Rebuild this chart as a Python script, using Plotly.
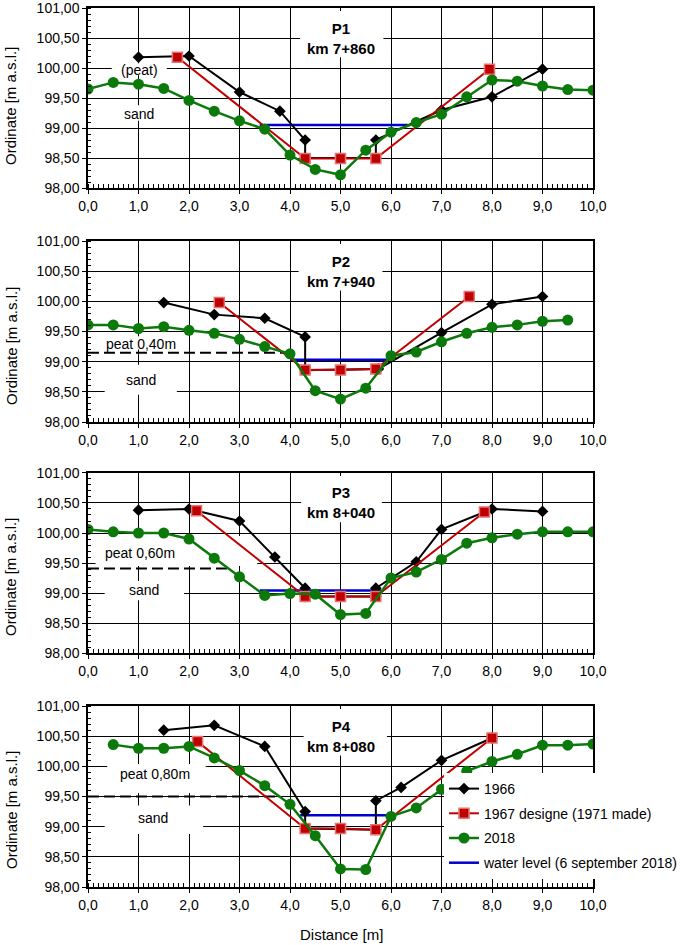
import plotly.graph_objects as go

# ---------------- data ----------------
panel_titles = ["P1<br>km 7+860", "P2<br>km 7+940", "P3<br>km 8+040", "P4<br>km 8+080"]
series_names = ["1966", "1967 designe (1971 made)", "2018", "water level (6 september 2018)"]
x_title = "Distance [m]"
y_title = "Ordinate [m a.s.l.]"

# P1
p1_1966_x = [1.0, 2.0, 3.0, 3.8, 4.3, 4.3, 5.7, 5.7, 7.0, 8.0, 9.0]
p1_1966_y = [100.18, 100.20, 99.60, 99.28, 98.80, 98.50, 98.50, 98.80, 99.30, 99.52, 99.98]
p1_1967_x = [1.77, 4.3, 5.0, 5.7, 7.95]
p1_1967_y = [100.18, 98.49, 98.49, 98.49, 99.98]
p1_2018_x = [0.0, 0.5, 1.0, 1.5, 2.0, 2.5, 3.0, 3.5, 4.0, 4.5, 5.0, 5.5, 6.0, 6.5, 7.0, 7.5, 8.0, 8.5, 9.0, 9.5, 10.0]
p1_2018_y = [99.65, 99.76, 99.73, 99.66, 99.46, 99.28, 99.12, 98.98, 98.55, 98.31, 98.22, 98.63, 98.93, 99.09, 99.23, 99.52, 99.80, 99.78, 99.70, 99.64, 99.63]
p1_water_x = [3.4, 6.33]
p1_water_y = [99.05, 99.05]

# P2
p2_1966_x = [1.5, 2.5, 3.5, 4.3, 4.3, 5.75, 7.0, 8.0, 9.0]
p2_1966_y = [99.98, 99.78, 99.72, 99.41, 98.86, 98.88, 99.48, 99.95, 100.08]
p2_1967_x = [2.6, 4.3, 5.0, 5.7, 7.55]
p2_1967_y = [99.98, 98.86, 98.86, 98.88, 100.08]
p2_2018_x = [0.0, 0.5, 1.0, 1.5, 2.0, 2.5, 3.0, 3.5, 4.0, 4.5, 5.0, 5.5, 6.0, 6.5, 7.0, 7.5, 8.0, 8.5, 9.0, 9.5]
p2_2018_y = [99.61, 99.61, 99.55, 99.58, 99.52, 99.47, 99.37, 99.25, 99.13, 98.52, 98.38, 98.56, 99.10, 99.16, 99.33, 99.47, 99.57, 99.61, 99.67, 99.69]
p2_water_x = [4.0, 5.97]
p2_water_y = [99.03, 99.03]
p2_peat_x = [0.0, 4.0]
p2_peat_y = [99.15, 99.15]

# P3
p3_1966_x = [1.0, 2.0, 3.0, 3.7, 4.3, 4.3, 5.7, 5.7, 6.5, 7.0, 8.0, 9.0]
p3_1966_y = [100.38, 100.40, 100.20, 99.60, 99.08, 98.94, 98.94, 99.08, 99.52, 100.06, 100.40, 100.36]
p3_1967_x = [2.15, 4.3, 5.0, 5.7, 7.85]
p3_1967_y = [100.37, 98.94, 98.94, 98.94, 100.35]
p3_2018_x = [0.0, 0.5, 1.0, 1.5, 2.0, 2.5, 3.0, 3.5, 4.0, 4.5, 5.0, 5.5, 6.0, 6.5, 7.0, 7.5, 8.0, 8.5, 9.0, 9.5, 10.0]
p3_2018_y = [100.06, 100.02, 100.00, 100.00, 99.90, 99.58, 99.27, 98.96, 98.99, 98.98, 98.64, 98.66, 99.25, 99.35, 99.56, 99.83, 99.92, 99.98, 100.02, 100.02, 100.02]
p3_water_x = [3.4, 5.8]
p3_water_y = [99.04, 99.04]
p3_peat_x = [0.0, 2.77]
p3_peat_y = [99.41, 99.41]

# P4
p4_1966_x = [1.5, 2.5, 3.5, 4.3, 4.3, 5.7, 5.7, 6.2, 7.0, 8.0]
p4_1966_y = [100.60, 100.68, 100.33, 99.25, 98.97, 98.95, 99.43, 99.65, 100.10, 100.47]
p4_1967_x = [2.17, 4.3, 5.0, 5.7, 8.0]
p4_1967_y = [100.41, 98.97, 98.97, 98.95, 100.47]
p4_2018_x = [0.5, 1.0, 1.5, 2.0, 2.5, 3.0, 3.5, 4.0, 4.5, 5.0, 5.5, 6.0, 6.5, 7.0, 7.5, 8.0, 8.5, 9.0, 9.5, 10.0]
p4_2018_y = [100.36, 100.30, 100.30, 100.33, 100.14, 99.93, 99.68, 99.37, 98.85, 98.30, 98.29, 99.17, 99.31, 99.62, 99.92, 100.08, 100.20, 100.35, 100.35, 100.37]
p4_water_x = [4.2, 6.0]
p4_water_y = [99.19, 99.19]
p4_peat_x = [0.0, 3.8]
p4_peat_y = [99.50, 99.50]

soil_labels = [
    ("(peat)", "sand"),
    ("peat 0,40m", "sand"),
    ("peat 0,60m", "sand"),
    ("peat 0,80m", "sand"),
]

x_ticks = [0, 1, 2, 3, 4, 5, 6, 7, 8, 9, 10]
y_ticks = [98.0, 98.5, 99.0, 99.5, 100.0, 100.5, 101.0]

panels = [
    dict(b=(p1_1966_x, p1_1966_y), r=(p1_1967_x, p1_1967_y), g=(p1_2018_x, p1_2018_y), w=(p1_water_x, p1_water_y), peat=None),
    dict(b=(p2_1966_x, p2_1966_y), r=(p2_1967_x, p2_1967_y), g=(p2_2018_x, p2_2018_y), w=(p2_water_x, p2_water_y), peat=(p2_peat_x, p2_peat_y)),
    dict(b=(p3_1966_x, p3_1966_y), r=(p3_1967_x, p3_1967_y), g=(p3_2018_x, p3_2018_y), w=(p3_water_x, p3_water_y), peat=(p3_peat_x, p3_peat_y)),
    dict(b=(p4_1966_x, p4_1966_y), r=(p4_1967_x, p4_1967_y), g=(p4_2018_x, p4_2018_y), w=(p4_water_x, p4_water_y), peat=(p4_peat_x, p4_peat_y)),
]

# ---------------- layout geometry / style ----------------
W, H = 685, 945
M_L, M_T = 88, 8
PW, PH = 505, 879
M_R = W - M_L - PW
M_B = H - M_T - PH
y_domains = [[0.7952, 1.0], [0.5290, 0.7349], [0.2662, 0.4710], [0.0, 0.2059]]
ytitle_px_y = [106, 346, 577, 810]   # vertical centres of y titles (px)
ytitle_px_x = 11
xtitle_px = (341, 935)
legend_px = (444, 773)


def paper_x(px):
    return (px - M_L) / PW


def paper_y(py):
    return (M_T + PH - py) / PH


peat_pos = [(1.01, 99.97), (1.05, 99.30), (1.03, 99.66), (1.33, 99.88)]
sand_pos = [(1.01, 99.24), (1.05, 98.70), (1.10, 99.05), (1.28, 99.14)]
title_box = [(4.2, 5.85), (4.17, 5.83), (4.22, 5.82), (4.27, 5.92)]
peat_box = [(0.47, 1.56, 99.88, 100.08), (0.33, 1.76, 99.20, 99.42), (0.15, 3.35, 99.45, 99.95), (0.38, 2.33, 99.56, 100.04)]
sand_box = [(0.55, 1.50, 99.12, 99.38), (0.33, 1.76, 98.45, 98.95), (0.33, 1.90, 98.88, 99.20), (0.33, 2.28, 98.88, 99.35)]

FONT = "Liberation Sans, Arial, sans-serif"
BLACK = "#000000"
RED = "#C00000"
RED_EDGE = "#E57373"
GREEN = "#0B7A0B"
BLUE = "#0000D0"

fig = go.Figure()

for i, p in enumerate(panels):
    xa = "x" if i == 0 else f"x{i+1}"
    ya = "y" if i == 0 else f"y{i+1}"
    show = (i == 3)
    if p["peat"] is not None:
        fig.add_trace(go.Scatter(x=p["peat"][0], y=p["peat"][1], mode="lines",
                                 line=dict(color=BLACK, width=2, dash="11px,5px"),
                                 showlegend=False, hoverinfo="skip", xaxis=xa, yaxis=ya))
    fig.add_trace(go.Scatter(x=p["w"][0], y=p["w"][1], mode="lines", name=series_names[3],
                             line=dict(color=BLUE, width=2.5), showlegend=show,
                             legendrank=4, legendgroup="w", xaxis=xa, yaxis=ya))
    fig.add_trace(go.Scatter(x=p["b"][0], y=p["b"][1], mode="lines+markers", name=series_names[0],
                             line=dict(color=BLACK, width=2),
                             marker=dict(symbol="diamond", size=9, color=BLACK),
                             showlegend=show, legendrank=1, legendgroup="b", xaxis=xa, yaxis=ya))
    fig.add_trace(go.Scatter(x=p["r"][0], y=p["r"][1], mode="lines+markers", name=series_names[1],
                             line=dict(color=RED, width=2),
                             marker=dict(symbol="square", size=10, color=RED, line=dict(color=RED_EDGE, width=1.5)),
                             showlegend=show, legendrank=2, legendgroup="r", xaxis=xa, yaxis=ya))
    fig.add_trace(go.Scatter(x=p["g"][0], y=p["g"][1], mode="lines+markers", name=series_names[2],
                             line=dict(color=GREEN, width=2.5),
                             marker=dict(symbol="circle", size=11, color=GREEN),
                             showlegend=show, legendrank=3, legendgroup="g", xaxis=xa, yaxis=ya))

layout = dict(
    width=W, height=H,
    margin=dict(l=M_L, r=M_R, t=M_T, b=M_B, pad=0, autoexpand=False),
    paper_bgcolor="white", plot_bgcolor="white",
    separators=", ",
    font=dict(family=FONT, size=14, color=BLACK),
    showlegend=True,
    legend=dict(x=paper_x(legend_px[0]), y=paper_y(legend_px[1]), xanchor="left", yanchor="top",
                bgcolor="white", borderwidth=0, font=dict(size=14, family=FONT),
                tracegroupgap=3.5, traceorder="grouped"),
)

shapes = []
annotations = []
for i in range(4):
    xn = "xaxis" if i == 0 else f"xaxis{i+1}"
    yn = "yaxis" if i == 0 else f"yaxis{i+1}"
    xr = "x" if i == 0 else f"x{i+1}"
    yr = "y" if i == 0 else f"y{i+1}"
    layout[xn] = dict(
        domain=[0, 1], anchor=yr, range=[0, 10], tickvals=x_ticks, tickformat=".1f",
        showgrid=True, gridcolor=BLACK, gridwidth=1.2,
        showline=True, linecolor=BLACK, linewidth=1.5, mirror=True,
        ticks="outside", ticklen=4, tickcolor=BLACK, tickwidth=1.2,
        tickfont=dict(size=14, family=FONT), ticklabeloverflow="allow",
        minor=dict(dtick=0.1, ticks="inside", ticklen=4, tickcolor=BLACK, tickwidth=1, showgrid=False),
        zeroline=False, fixedrange=True, automargin=False,
    )
    layout[yn] = dict(
        domain=y_domains[i], anchor=xr, range=[98, 101], tickvals=y_ticks, tickformat=".2f",
        showgrid=True, gridcolor=BLACK, gridwidth=1.2,
        showline=True, linecolor=BLACK, linewidth=1.5, mirror=True,
        ticks="outside", ticklen=4, tickcolor=BLACK, tickwidth=1.2,
        tickfont=dict(size=14, family=FONT), ticklabeloverflow="allow",
        minor=dict(dtick=0.1, ticks="inside", ticklen=3, tickcolor=BLACK, tickwidth=1, showgrid=False),
        zeroline=False, fixedrange=True, automargin=False,
    )
    x0, x1 = title_box[i]
    shapes.append(dict(type="rect", xref=xr, yref=yr, x0=x0, x1=x1, y0=100.18, y1=100.95,
                       fillcolor="white", line=dict(width=0), layer="between"))
    a, b, c, d = peat_box[i]
    shapes.append(dict(type="rect", xref=xr, yref=yr, x0=a, x1=b, y0=c, y1=d,
                       fillcolor="white", line=dict(width=0), layer="between"))
    a, b, c, d = sand_box[i]
    shapes.append(dict(type="rect", xref=xr, yref=yr, x0=a, x1=b, y0=c, y1=d,
                       fillcolor="white", line=dict(width=0), layer="between"))
    t1, t2 = panel_titles[i].split("<br>")
    annotations.append(dict(xref=xr, yref=yr, x=5.0, y=100.5, showarrow=False,
                            text=f"<b>{t1}</b><br><b>{t2}</b>",
                            font=dict(size=15, family=FONT, color=BLACK)))
    annotations.append(dict(xref=xr, yref=yr, x=peat_pos[i][0], y=peat_pos[i][1], showarrow=False,
                            text=soil_labels[i][0], font=dict(size=14, family=FONT, color=BLACK)))
    annotations.append(dict(xref=xr, yref=yr, x=sand_pos[i][0], y=sand_pos[i][1], showarrow=False,
                            text=soil_labels[i][1], font=dict(size=14, family=FONT, color=BLACK)))
    annotations.append(dict(xref="paper", yref="paper",
                            x=paper_x(ytitle_px_x), y=paper_y(ytitle_px_y[i]),
                            xanchor="center", yanchor="middle", textangle=-90, showarrow=False,
                            text=y_title, font=dict(size=15, family=FONT, color=BLACK)))

annotations.append(dict(xref="paper", yref="paper",
                        x=paper_x(xtitle_px[0]), y=paper_y(xtitle_px[1]),
                        xanchor="center", yanchor="middle", showarrow=False,
                        text=x_title, font=dict(size=15, family=FONT, color=BLACK)))

layout["shapes"] = shapes
layout["annotations"] = annotations
fig.update_layout(**layout)

# remove the default 8px page margin so the figure sits at the window's top-left corner
fig.write_html("out.html", config={"displayModeBar": False},
               post_script="document.body.style.margin='0px';")
